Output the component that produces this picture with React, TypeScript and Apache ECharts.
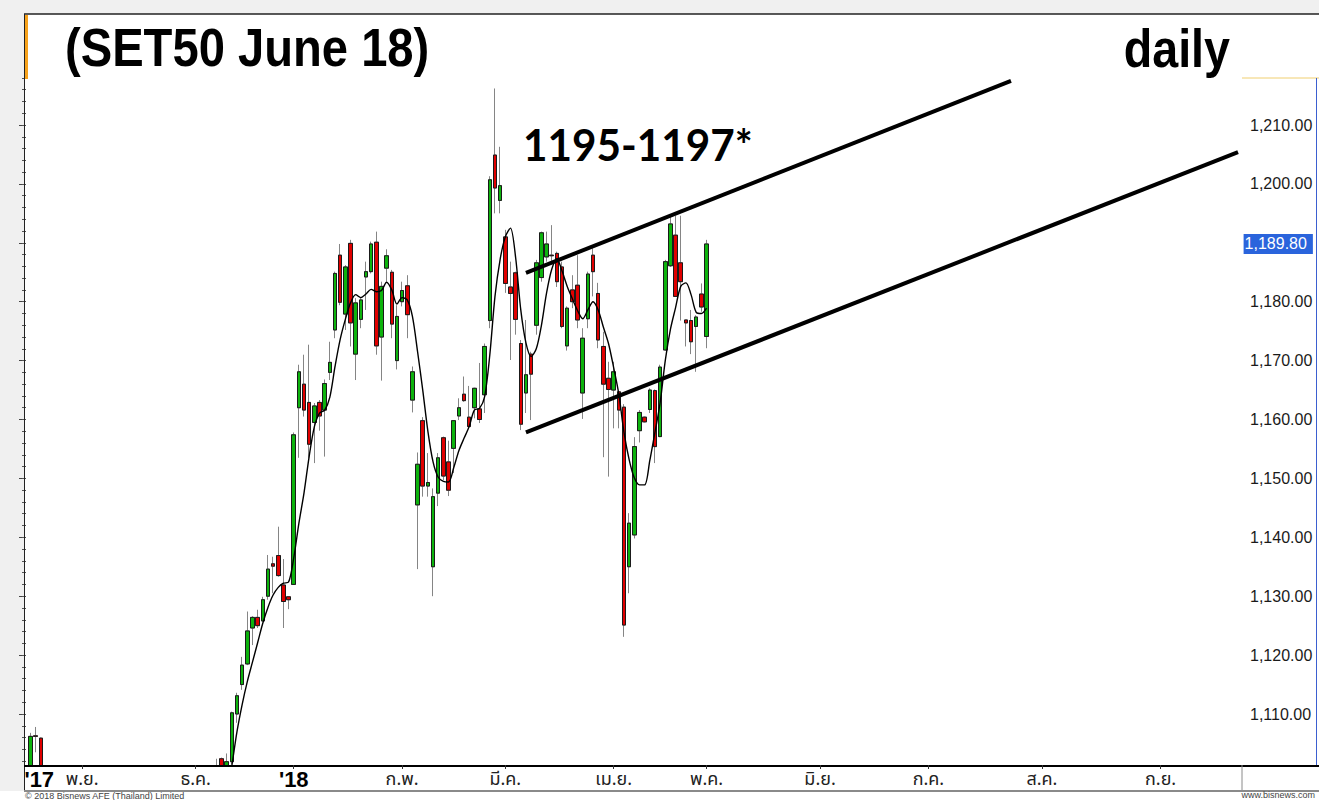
import React, { useEffect, useRef } from "react";
import * as echarts from "echarts";

// ---------- data ----------
const SLOT_COUNT = 235; // trading-day slots on the time axis
const monthTickIndex = [1, 10, 32, 51, 72, 92, 113, 131, 153, 174, 196, 219];
const monthTickText = ["'17", "พ.ย.", "ธ.ค.", "'18", "ก.พ.", "มี.ค.", "เม.ย.", "พ.ค.", "มิ.ย.", "ก.ค.", "ส.ค.", "ก.ย."];
const yearLabels = ["'17", "'18"];

// [open, close, low, high]
const earlyStart = 0;
const earlyCandles = [
  [1099.0, 1106.2, 1097.0, 1106.8],
  [1106.3, 1106.2, 1103.5, 1107.8],
  [1105.9, 1099.0, 1097.0, 1106.0],
];

const mainStart = 36;
const mainCandles = [
  [1099.0, 1098.0, 1096.0, 1102.4],
  [1102.4, 1100.8, 1100.0, 1102.6],
  [1100.5, 1101.9, 1099.5, 1103.3],
  [1101.9, 1110.2, 1101.5, 1110.4],
  [1110.0, 1113.1, 1108.5, 1113.6],
  [1115.0, 1118.3, 1114.1, 1119.7],
  [1118.5, 1124.1, 1118.3, 1127.4],
  [1124.6, 1126.4, 1121.7, 1126.6],
  [1126.4, 1125.0, 1124.6, 1127.7],
  [1125.8, 1129.4, 1125.7, 1129.9],
  [1130.0, 1134.6, 1129.4, 1137.0],
  [1135.5, 1135.1, 1130.5, 1136.7],
  [1136.9, 1133.5, 1133.3, 1141.8],
  [1131.9, 1129.1, 1124.6, 1136.3],
  [1129.9, 1129.4, 1127.8, 1129.9],
  [1132.0, 1157.4, 1131.9, 1157.8],
  [1162.0, 1168.1, 1153.5, 1169.3],
  [1166.0, 1161.6, 1160.5, 1171.0],
  [1162.9, 1155.8, 1153.5, 1172.7],
  [1159.5, 1162.3, 1152.6, 1162.8],
  [1162.9, 1160.6, 1158.1, 1163.3],
  [1161.6, 1166.1, 1153.7, 1166.8],
  [1168.0, 1169.7, 1166.7, 1173.2],
  [1175.2, 1184.8, 1173.8, 1185.1],
  [1187.9, 1179.9, 1179.4, 1189.8],
  [1177.9, 1185.9, 1175.2, 1186.2],
  [1189.9, 1176.4, 1172.4, 1190.5],
  [1171.1, 1179.8, 1166.7, 1180.6],
  [1177.0, 1180.3, 1175.5, 1180.6],
  [1184.2, 1185.1, 1178.6, 1186.8],
  [1185.1, 1189.8, 1184.8, 1190.2],
  [1190.1, 1172.5, 1171.0, 1191.9],
  [1174.0, 1182.6, 1166.6, 1183.4],
  [1185.7, 1187.8, 1183.4, 1188.9],
  [1185.0, 1176.2, 1173.8, 1185.4],
  [1170.0, 1177.5, 1168.5, 1179.4],
  [1180.0, 1181.9, 1179.2, 1183.4],
  [1182.7, 1177.8, 1173.8, 1184.5],
  [1163.3, 1168.1, 1161.2, 1169.0],
  [1145.5, 1152.4, 1134.6, 1154.4],
  [1159.8, 1148.7, 1146.9, 1160.4],
  [1148.7, 1149.3, 1146.9, 1154.3],
  [1135.0, 1146.9, 1130.0, 1148.3],
  [1147.5, 1153.5, 1145.3, 1154.3],
  [1156.9, 1150.4, 1149.7, 1157.1],
  [1152.8, 1148.0, 1147.0, 1156.4],
  [1155.1, 1159.8, 1150.9, 1159.9],
  [1160.6, 1162.0, 1159.9, 1163.6],
  [1164.3, 1163.2, 1163.0, 1167.3],
  [1160.4, 1158.8, 1158.8, 1165.7],
  [1162.0, 1165.3, 1160.2, 1165.4],
  [1161.8, 1160.0, 1159.4, 1169.6],
  [1164.2, 1172.4, 1161.1, 1172.9],
  [1176.8, 1200.7, 1175.5, 1201.3],
  [1204.9, 1199.3, 1195.0, 1216.2],
  [1197.2, 1199.7, 1195.0, 1206.3],
  [1191.0, 1183.1, 1181.5, 1192.2],
  [1182.5, 1181.4, 1170.1, 1186.8],
  [1184.9, 1177.0, 1174.4, 1185.1],
  [1172.9, 1159.2, 1158.2, 1173.5],
  [1164.5, 1167.6, 1161.1, 1176.9],
  [1171.1, 1167.7, 1159.9, 1171.5],
  [1176.0, 1186.6, 1174.4, 1187.1],
  [1184.1, 1191.7, 1183.4, 1191.9],
  [1187.6, 1189.8, 1186.8, 1191.9],
  [1187.9, 1187.8, 1186.8, 1193.0],
  [1188.2, 1183.4, 1182.5, 1188.5],
  [1185.9, 1175.8, 1175.5, 1186.8],
  [1172.5, 1178.9, 1171.7, 1179.2],
  [1182.0, 1180.0, 1178.9, 1184.5],
  [1182.8, 1176.9, 1175.5, 1187.9],
  [1164.5, 1173.8, 1160.1, 1175.5],
  [1177.1, 1184.7, 1175.5, 1185.1],
  [1187.9, 1185.1, 1180.9, 1189.1],
  [1181.4, 1173.5, 1172.1, 1183.2],
  [1172.4, 1166.0, 1153.6, 1174.9],
  [1167.0, 1165.1, 1150.3, 1169.8],
  [1165.0, 1168.1, 1158.5, 1169.8],
  [1164.7, 1161.6, 1158.5, 1164.8],
  [1162.1, 1125.1, 1123.1, 1162.6],
  [1135.0, 1142.4, 1130.5, 1144.1],
  [1140.4, 1155.4, 1139.8, 1157.0],
  [1158.1, 1161.2, 1156.1, 1161.6],
  [1160.4, 1159.6, 1159.5, 1160.5],
  [1161.7, 1165.0, 1161.1, 1165.3],
  [1164.9, 1155.4, 1152.6, 1165.1],
  [1157.1, 1168.9, 1157.0, 1169.3],
  [1171.8, 1186.8, 1171.7, 1187.1],
  [1186.1, 1193.2, 1185.9, 1194.7],
  [1191.3, 1180.9, 1180.8, 1194.6],
  [1186.6, 1183.4, 1176.8, 1194.6],
  [1176.9, 1176.4, 1172.4, 1176.9],
  [1176.8, 1173.2, 1171.1, 1178.6],
  [1175.8, 1177.4, 1168.1, 1177.7],
  [1181.3, 1179.1, 1178.3, 1183.1],
  [1174.1, 1189.8, 1172.1, 1190.5],
];

const maStart = 38;
const maValues = [
  1096.0, 1101.2, 1107.0, 1111.6, 1115.5, 1118.8, 1122.1, 1125.4, 1128.1, 1130.2,
  1131.5, 1132.2, 1132.4, 1136.5, 1142.4, 1147.6, 1153.8, 1158.8, 1161.1, 1161.6,
  1163.8, 1169.0, 1173.6, 1177.0, 1179.8, 1181.2, 1180.7, 1181.3, 1182.1, 1181.7,
  1181.9, 1183.3, 1182.0, 1179.6, 1180.7, 1180.3, 1177.5, 1171.5, 1165.0, 1158.0,
  1152.8, 1150.2, 1149.5, 1149.4, 1151.8, 1154.7, 1156.8, 1158.8, 1161.6, 1161.9,
  1163.9, 1171.0, 1180.9, 1187.2, 1191.0, 1192.5, 1187.5, 1178.6, 1173.0, 1170.7,
  1172.0, 1176.0, 1181.5, 1185.5, 1187.3, 1185.2, 1182.6, 1180.5, 1178.5, 1177.1,
  1178.6, 1180.0, 1178.6, 1175.7, 1172.9, 1168.8, 1164.3, 1157.8, 1153.2, 1150.1,
  1148.9, 1148.9, 1153.0, 1157.8, 1162.8, 1170.0, 1175.3, 1179.0, 1182.6, 1183.2,
  1181.2, 1178.2, 1178.0, 1178.9,
];

const lastClose = 1189.8;
const upperChannel = [[96, 1184.9], [190, 1217.5]];
const lowerChannel = [[96, 1157.8], [234, 1205.4]];

const priceLabelMin = 1110;
const priceLabelMax = 1210;
const priceLabelStep = 10;
const rulerMin = 1102;
const rulerMax = 1218;
const rulerStep = 2;

const titleText = "(SET50 June 18)";
const periodText = "daily";
const targetText = "1195-1197*";
const footerLeft = "© 2018 Bisnews AFE (Thailand) Limited";
const footerRight = "www.bisnews.com";

// ---------- geometry (layout only) ----------
const PLOT_LEFT = 28;
const SLOT_W = 5.16;
const PX_PER_UNIT = 5.89;
const REF_VALUE = 1210;
const REF_Y = 125;
const PLOT_TOP = 14;
const PLOT_BOTTOM = 765;
const FRAME_LEFT = 24;
const FRAME_RIGHT = 1242;

const yOf = (v: number) => REF_Y + (REF_VALUE - v) * PX_PER_UNIT;
const vOf = (y: number) => REF_VALUE - (y - REF_Y) / PX_PER_UNIT;

const fmt = (v: number) => v.toFixed(2).replace(/\B(?=(\d{3})+(?!\d))/g, ",");

const GREEN = "#0db30d";
const RED = "#e00000";
const SANS = '"Liberation Sans", Arial, sans-serif';

export default function App() {
  const ref = useRef<HTMLDivElement>(null);

  useEffect(() => {
    if (!ref.current) return;
    const chart = echarts.init(ref.current, null, { renderer: "svg" });

    const empty = ["-", "-", "-", "-"];
    const full: any[] = Array.from({ length: SLOT_COUNT }, () => empty);
    earlyCandles.forEach((c, i) => (full[earlyStart + i] = c));
    mainCandles.forEach((c, i) => (full[mainStart + i] = c));
    const bodies = full.map((c) =>
      c[0] === "-" ? empty : [c[0], c[1], Math.min(c[0], c[1]), Math.max(c[0], c[1])]
    );
    const ma: any[] = Array.from({ length: SLOT_COUNT }, () => "-");
    maValues.forEach((v, i) => (ma[maStart + i] = v));

    const categories = Array.from({ length: SLOT_COUNT }, (_, i) => String(i));
    const labelAt = (i: number) => {
      const k = monthTickIndex.indexOf(i);
      return k >= 0 ? monthTickText[k] : "";
    };

    const plotWidth = SLOT_COUNT * SLOT_W;
    const frameWidth = FRAME_RIGHT - FRAME_LEFT;

    const option: any = {
      animation: false,
      backgroundColor: "#ffffff",
      grid: [
        { left: PLOT_LEFT, top: PLOT_TOP, width: plotWidth, height: PLOT_BOTTOM - PLOT_TOP },
        {
          left: FRAME_LEFT,
          top: yOf(priceLabelMax),
          width: frameWidth,
          height: (priceLabelMax - priceLabelMin) * PX_PER_UNIT,
        },
        {
          left: FRAME_LEFT,
          top: yOf(rulerMax),
          width: frameWidth,
          height: (rulerMax - rulerMin) * PX_PER_UNIT,
        },
      ],
      xAxis: [
        {
          type: "category",
          gridIndex: 0,
          z: 30,
          data: categories,
          boundaryGap: true,
          axisLine: { show: false },
          axisTick: {
            show: true,
            alignWithLabel: true,
            length: 4,
            interval: (i: number) => labelAt(i) !== "" && labelAt(i) !== "'17",
            lineStyle: { color: "#333", width: 1 },
          },
          axisLabel: {
            interval: (i: number) => labelAt(i) !== "",
            margin: 2,
            formatter: (_v: string, i: number) => {
              const t = labelAt(i);
              if (t === yearLabels[0]) return `{y0|${t}}`;
              return yearLabels.includes(t) ? `{y|${t}}` : `{m|${t}}`;
            },
            rich: {
              y0: {
                fontSize: 22,
                fontWeight: "bold",
                fontFamily: SANS,
                color: "#000",
                lineHeight: 24,
                padding: [0, 0, 0, 7],
              },
              y: {
                fontSize: 22,
                fontWeight: "bold",
                fontFamily: SANS,
                color: "#000",
                lineHeight: 24,
              },
              m: {
                fontSize: 18,
                fontFamily: 'Tahoma, "Noto Sans Thai", "DejaVu Sans", sans-serif',
                color: "#222",
                lineHeight: 24,
              },
            },
          },
          splitLine: { show: false },
        },
        { type: "value", gridIndex: 1, show: false, min: 0, max: 1 },
        { type: "value", gridIndex: 2, show: false, min: 0, max: 1 },
      ],
      yAxis: [
        {
          type: "value",
          gridIndex: 0,
          show: false,
          min: vOf(PLOT_BOTTOM),
          max: vOf(PLOT_TOP),
          splitLine: { show: false },
        },
        {
          type: "value",
          gridIndex: 1,
          position: "right",
          min: priceLabelMin,
          max: priceLabelMax,
          interval: priceLabelStep,
          axisLine: { show: false },
          axisTick: { show: true, inside: true, length: 5, lineStyle: { color: "#444" } },
          splitLine: { show: false },
          axisLabel: {
            margin: 8,
            align: "left",
            color: "#1a1a1a",
            fontSize: 16,
            fontFamily: SANS,
            formatter: (v: number) => (Math.abs(v - lastClose) < 4 ? "" : fmt(v)),
          },
        },
        {
          type: "value",
          gridIndex: 2,
          position: "right",
          min: rulerMin,
          max: rulerMax,
          interval: rulerStep,
          axisLine: { show: true, lineStyle: { color: "#d9c27a", width: 1 } },
          axisTick: { show: true, inside: true, length: 2, lineStyle: { color: "#555" } },
          axisLabel: { show: false },
          splitLine: { show: false },
        },
        {
          type: "value",
          gridIndex: 2,
          position: "left",
          min: rulerMin,
          max: rulerMax,
          interval: rulerStep,
          axisLine: { show: false },
          axisTick: { show: true, inside: true, length: 2, lineStyle: { color: "#555" } },
          axisLabel: { show: false },
          splitLine: { show: false },
        },
      ],
      series: [
        {
          name: "wicks",
          type: "candlestick",
          xAxisIndex: 0,
          yAxisIndex: 0,
          data: full,
          barWidth: 4,
          clip: true,
          z: 2,
          itemStyle: {
            color: GREEN,
            color0: RED,
            borderColor: "#858585",
            borderColor0: "#858585",
            borderColorDoji: "#858585",
            borderWidth: 1,
          },
        },
        {
          name: "bodies",
          type: "candlestick",
          xAxisIndex: 0,
          yAxisIndex: 0,
          data: bodies,
          barWidth: 4,
          clip: true,
          z: 3,
          itemStyle: {
            color: GREEN,
            color0: RED,
            borderColor: "#1a1a1a",
            borderColor0: "#1a1a1a",
            borderColorDoji: "#1a1a1a",
            borderWidth: 1,
          },
          markLine: {
            silent: true,
            symbol: ["none", "none"],
            data: [{ yAxis: lastClose }],
            lineStyle: { color: "rgba(0,0,0,0)", width: 0 },
            label: {
              show: true,
              position: "end",
              distance: 3,
              formatter: () => fmt(lastClose),
              backgroundColor: "#2a64dc",
              color: "#ffffff",
              fontSize: 16,
              fontFamily: SANS,
              padding: [2, 6, 2, 1],
              opacity: 1,
            },
          },
        },
        {
          name: "MA",
          type: "line",
          xAxisIndex: 0,
          yAxisIndex: 0,
          data: ma,
          smooth: 0.3,
          showSymbol: false,
          symbol: "none",
          clip: true,
          z: 4,
          lineStyle: { color: "#000", width: 1.4 },
        },
        {
          name: "upper",
          type: "line",
          xAxisIndex: 0,
          yAxisIndex: 0,
          data: upperChannel,
          symbol: "none",
          z: 5,
          lineStyle: { color: "#000", width: 4 },
        },
        {
          name: "lower",
          type: "line",
          xAxisIndex: 0,
          yAxisIndex: 0,
          data: lowerChannel,
          symbol: "none",
          z: 5,
          lineStyle: { color: "#000", width: 4 },
        },
      ],
      graphic: [
        { type: "rect", z: 0, shape: { x: 0, y: 0, width: 1319, height: PLOT_TOP }, style: { fill: "#f0f0f0" } },
        { type: "rect", z: 0, shape: { x: 0, y: 0, width: FRAME_LEFT, height: 791 }, style: { fill: "#f0f0f0" } },
        // cover for the time-axis strip (hides marks that run below the plot)
        { type: "rect", z: 8, shape: { x: FRAME_LEFT + 1, y: PLOT_BOTTOM + 1, width: 1319 - FRAME_LEFT, height: 34 }, style: { fill: "#ffffff" } },
        { type: "line", z: 10, shape: { x1: FRAME_LEFT, y1: PLOT_TOP, x2: 1319, y2: PLOT_TOP }, style: { stroke: "#222", lineWidth: 1.5 } },
        { type: "line", z: 10, shape: { x1: FRAME_LEFT + 0.5, y1: PLOT_TOP, x2: FRAME_LEFT + 0.5, y2: 791 }, style: { stroke: "#222", lineWidth: 1 } },
        { type: "rect", z: 10, shape: { x: 25, y: 15, width: 3, height: 64 }, style: { fill: "#f7a21b" } },
        { type: "line", z: 10, shape: { x1: FRAME_RIGHT, y1: 78, x2: 1319, y2: 78 }, style: { stroke: "#f0cf70", lineWidth: 1 } },
        { type: "line", z: 10, shape: { x1: 1316.5, y1: 78, x2: 1316.5, y2: PLOT_BOTTOM }, style: { stroke: "#3b5fd0", lineWidth: 1 } },
        { type: "line", z: 10, shape: { x1: FRAME_LEFT, y1: PLOT_BOTTOM + 1, x2: 1319, y2: PLOT_BOTTOM + 1 }, style: { stroke: "#000", lineWidth: 2 } },
        { type: "line", z: 10, shape: { x1: FRAME_LEFT, y1: 791, x2: 1319, y2: 791 }, style: { stroke: "#8a8a8a", lineWidth: 2 } },
        { type: "line", z: 10, shape: { x1: FRAME_RIGHT, y1: PLOT_BOTTOM, x2: FRAME_RIGHT, y2: 791 }, style: { stroke: "#8a8a8a", lineWidth: 1 } },
        {
          type: "text", z: 10, x: 25, y: 796,
          style: { text: footerLeft, fill: "#444", fontSize: 9, fontFamily: SANS, textAlign: "left", textVerticalAlign: "middle" },
        },
        {
          type: "text", z: 10, x: 1315, y: 795,
          style: { text: footerRight, fill: "#444", fontSize: 9, fontFamily: SANS, textAlign: "right", textVerticalAlign: "middle" },
        },
        {
          type: "text", z: 10, x: 65, y: 48.5, scaleX: 0.89,
          style: { text: titleText, fill: "#000", fontSize: 53, fontWeight: "bold", fontFamily: SANS, textAlign: "left", textVerticalAlign: "middle" },
        },
        {
          type: "text", z: 10, x: 1230, y: 48.5, scaleX: 0.88,
          style: { text: periodText, fill: "#000", fontSize: 53, fontWeight: "bold", fontFamily: SANS, textAlign: "right", textVerticalAlign: "middle" },
        },
        {
          type: "text", z: 10, x: 523, y: 144, scaleX: 0.96,
          style: { text: targetText, fill: "#000", fontSize: 44, fontWeight: "bold", fontFamily: 'Lato, "Open Sans", sans-serif', textAlign: "left", textVerticalAlign: "middle" },
        },
      ],
    };

    chart.setOption(option);
    return () => chart.dispose();
  }, []);

  return (
    <div
      ref={ref}
      style={{ position: "absolute", left: 0, top: 0, width: 1319, height: 800 }}
    />
  );
}
